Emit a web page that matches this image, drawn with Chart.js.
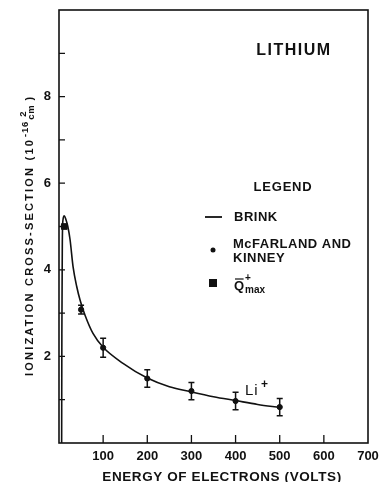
<!DOCTYPE html>
<html><head><meta charset="utf-8">
<script src="https://cdn.jsdelivr.net/npm/chart.js@4/dist/chart.umd.min.js"></script>
<style>html,body{margin:0;padding:0;background:#fff}canvas{display:block}</style>
</head><body>
<canvas id="c" width="383" height="482"></canvas>
<script>
// ---- data ----
const brinkEnergy = [6, 6.5, 7.5, 9, 12, 16, 20, 25, 32, 40, 48, 59, 77, 100, 145, 200, 250, 300, 350, 400, 450, 500];
const brinkSigma  = [0, 2.5, 4.6, 5.15, 5.25, 5.15, 5.0, 4.7, 4.06, 3.62, 3.29, 2.95, 2.53, 2.21, 1.84, 1.50, 1.30, 1.18, 1.07, 0.98, 0.89, 0.82];
const mkEnergy = [50, 100, 200, 300, 400, 500];
const mkSigma  = [3.08, 2.2, 1.49, 1.2, 0.97, 0.83];
const mkError  = [0.1, 0.22, 0.2, 0.2, 0.2, 0.2];
const qmaxEnergy = [12];
const qmaxSigma  = [5.0];
const xTickLabels = [100, 200, 300, 400, 500, 600, 700];
const yTickLabels = [2, 4, 6, 8];
const xMinorTicks = [100, 200, 300, 400, 500, 600];
const yMinorTicks = [1, 2, 3, 4, 5, 6, 7, 8, 9];

const FONT = '"Liberation Sans", Arial, sans-serif';
const INK = '#111';

const toXY = (xs, ys) => xs.map((x, i) => ({x, y: ys[i]}));

const decor = {
  id: 'decor',
  beforeDatasetsDraw(chart) {
    const {ctx, chartArea: a, scales: {x, y}} = chart;
    ctx.save();
    ctx.strokeStyle = INK;
    ctx.lineWidth = 1.6;
    ctx.strokeRect(a.left, a.top, a.right - a.left, a.bottom - a.top);
    ctx.lineWidth = 1.3;
    ctx.beginPath();
    yMinorTicks.forEach(v => { const p = y.getPixelForValue(v); ctx.moveTo(a.left, p); ctx.lineTo(a.left + 6, p); });
    xMinorTicks.forEach(v => { const p = x.getPixelForValue(v); ctx.moveTo(p, a.bottom); ctx.lineTo(p, a.bottom - 8); });
    ctx.stroke();
    ctx.restore();
  },
  afterDraw(chart) {
    const {ctx, scales: {x, y}} = chart;
    ctx.save();
    ctx.strokeStyle = INK; ctx.fillStyle = INK;
    // error bars
    ctx.lineWidth = 1.5;
    mkEnergy.forEach((e, i) => {
      const px = x.getPixelForValue(e);
      const y1 = y.getPixelForValue(mkSigma[i] + mkError[i]);
      const y2 = y.getPixelForValue(mkSigma[i] - mkError[i]);
      ctx.beginPath();
      ctx.moveTo(px, y1); ctx.lineTo(px, y2);
      ctx.moveTo(px - 3, y1); ctx.lineTo(px + 3, y1);
      ctx.moveTo(px - 3, y2); ctx.lineTo(px + 3, y2);
      ctx.stroke();
    });
    // title
    ctx.textBaseline = 'middle';
    ctx.textAlign = 'center';
    ctx.font = 'bold 16px ' + FONT;
    ctx.letterSpacing = '1.5px';
    ctx.fillText('LITHIUM', 294, 51);
    // legend
    ctx.font = 'bold 13px ' + FONT;
    ctx.letterSpacing = '0.8px';
    ctx.fillText('LEGEND', 283, 187);
    ctx.textAlign = 'left';
    ctx.letterSpacing = '0.5px';
    ctx.fillText('BRINK', 234, 217);
    ctx.fillText('McFARLAND AND', 233, 244);
    ctx.fillText('KINNEY', 233, 258);
    ctx.beginPath(); ctx.lineWidth = 1.8; ctx.moveTo(205, 217); ctx.lineTo(222, 217); ctx.stroke();
    ctx.beginPath(); ctx.arc(213, 250, 2.5, 0, Math.PI * 2); ctx.fill();
    ctx.fillRect(209, 279, 8, 8);
    // Q-bar + max
    ctx.fillText('Q', 234, 286);
    const qw = ctx.measureText('Q').width;
    ctx.lineWidth = 1.2;
    ctx.beginPath(); ctx.moveTo(235, 279); ctx.lineTo(234 + qw - 1, 279); ctx.stroke();
    ctx.font = 'bold 10px ' + FONT;
    ctx.letterSpacing = '0px';
    ctx.fillText('+', 245, 278);
    ctx.fillText('max', 245, 290);
    // Li+
    ctx.font = '15px ' + FONT;
    ctx.letterSpacing = '1px';
    ctx.fillText('Li', 245, 391);
    ctx.font = 'bold 12px ' + FONT;
    ctx.letterSpacing = '0px';
    ctx.fillText('+', 261, 385);
    // x axis title
    ctx.textAlign = 'center';
    ctx.font = 'bold 13.5px ' + FONT;
    ctx.letterSpacing = '0.6px';
    ctx.fillText('ENERGY OF ELECTRONS (VOLTS)', 222, 477);
    // y axis title (rotated)
    ctx.translate(30, 376);
    ctx.rotate(-Math.PI / 2);
    ctx.textAlign = 'left';
    ctx.font = 'bold 11px ' + FONT;
    ctx.letterSpacing = '2.2px';
    const main = 'IONIZATION CROSS-SECTION (10';
    ctx.fillText(main, 0, 0);
    let pos = ctx.measureText(main).width + 1;
    ctx.font = 'bold 9.5px ' + FONT;
    ctx.letterSpacing = '0.8px';
    ctx.fillText('-16', pos, -5);
    pos += ctx.measureText('-16').width + 1;
    ctx.fillText('cm', pos, 1.5);
    ctx.fillText('2', pos + 3, -6.5);
    pos += ctx.measureText('cm').width + 4;
    ctx.font = 'bold 11px ' + FONT;
    ctx.fillText(')', pos, 0);
    ctx.restore();
  }
};

new Chart(document.getElementById('c'), {
  type: 'scatter',
  data: {
    datasets: [
      {
        type: 'line', label: 'BRINK', data: toXY(brinkEnergy, brinkSigma),
        borderColor: INK, borderWidth: 1.6, pointRadius: 0, fill: false,
        cubicInterpolationMode: 'monotone', order: 3
      },
      {
        label: 'McFARLAND AND KINNEY', data: toXY(mkEnergy, mkSigma),
        backgroundColor: INK, borderColor: INK, pointRadius: 2.6, pointStyle: 'circle', order: 1
      },
      {
        label: 'Qmax', data: toXY(qmaxEnergy, qmaxSigma),
        backgroundColor: INK, borderColor: INK, pointRadius: 4, pointStyle: 'rect', order: 2
      }
    ]
  },
  options: {
    responsive: false, animation: false, devicePixelRatio: 1,
    layout: {padding: {left: 0, right: 15, top: 10, bottom: 0}},
    plugins: {legend: {display: false}, tooltip: {enabled: false}},
    scales: {
      x: {
        type: 'linear', min: 0, max: 700,
        grid: {display: false, drawTicks: false}, border: {display: false},
        afterFit: s => { s.height = 39; s.paddingLeft = 0; s.paddingRight = 0; },
        afterBuildTicks: s => { s.ticks = xTickLabels.map(v => ({value: v})); },
        ticks: {
          autoSkip: false, maxRotation: 0, padding: 6, color: INK,
          font: {family: FONT, size: 13, weight: 'bold'},
          callback: v => String(v)
        }
      },
      y: {
        type: 'linear', min: 0, max: 10,
        grid: {display: false, drawTicks: false}, border: {display: false},
        afterFit: s => { s.width = 59; s.paddingTop = 0; s.paddingBottom = 0; },
        afterBuildTicks: s => { s.ticks = yTickLabels.map(v => ({value: v})); },
        ticks: {
          autoSkip: false, padding: 8, color: INK,
          font: {family: FONT, size: 13, weight: 'bold'},
          callback: v => String(v)
        }
      }
    }
  },
  plugins: [decor]
});
</script>
</body></html>
